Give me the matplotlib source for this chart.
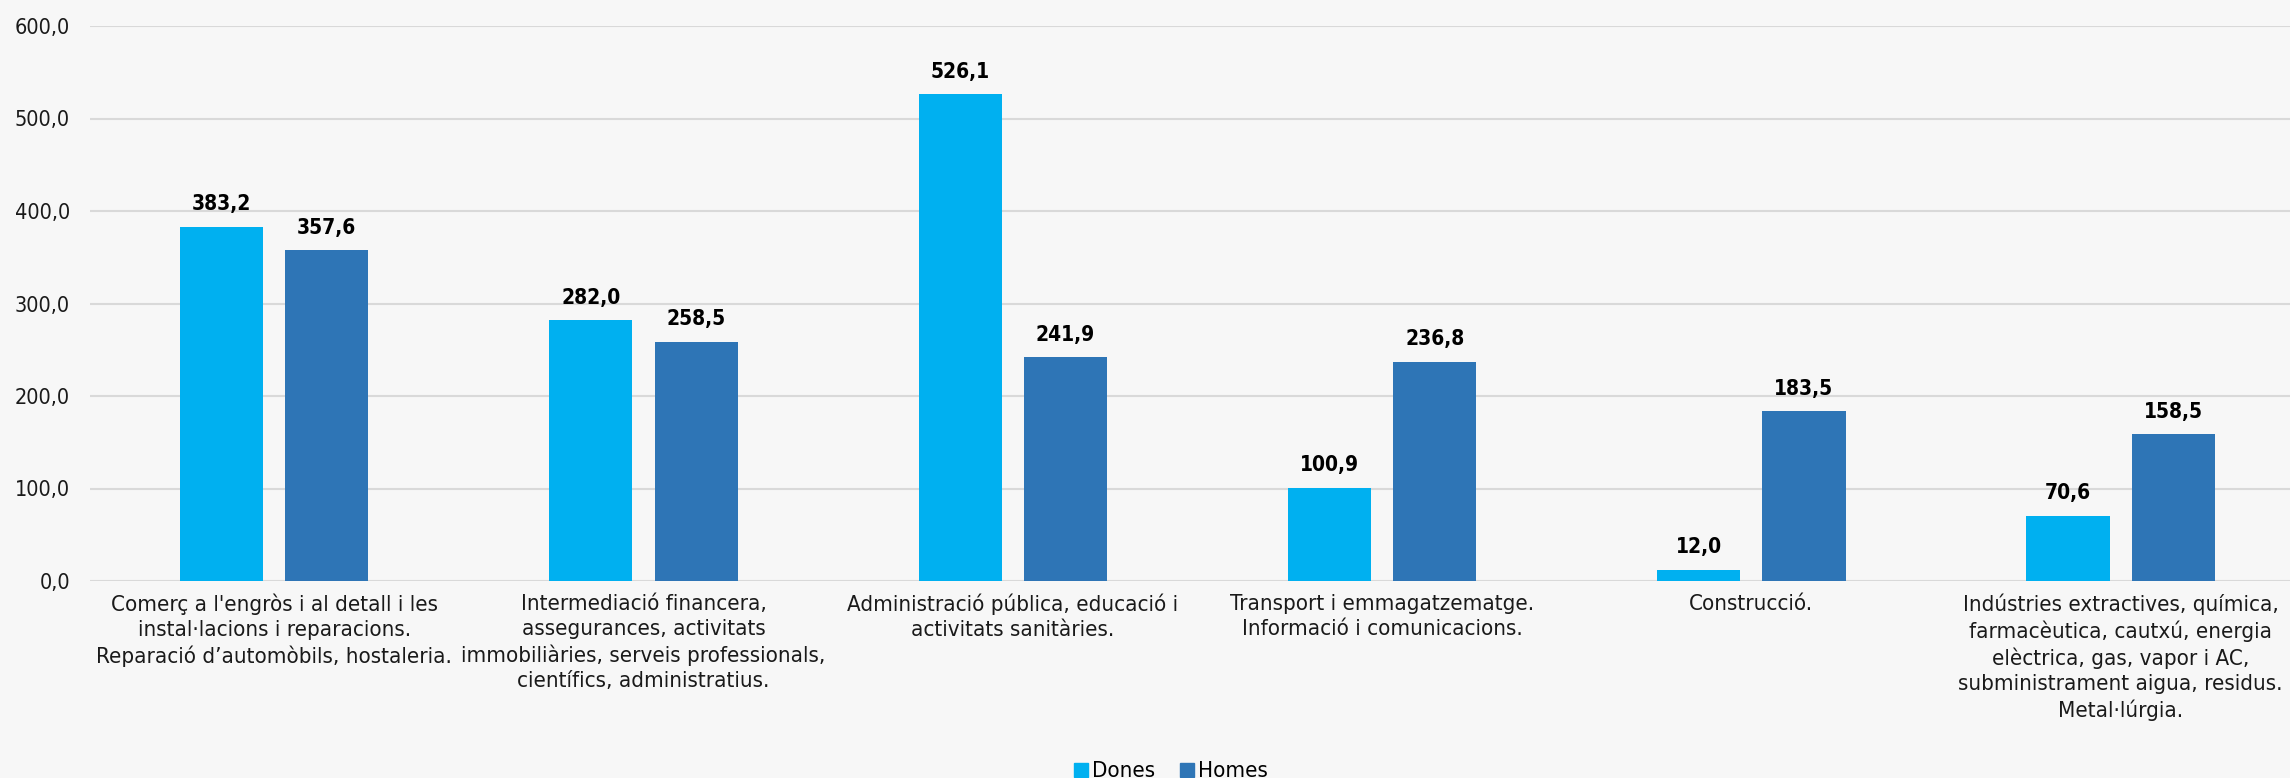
import matplotlib.pyplot as plt
import numpy as np
from matplotlib.lines import Line2D

categories = [
    "Comerç a l'engròs i al detall i les\ninstal·lacions i reparacions.\nReparació d\u2019automòbils, hostaleria.",
    "Intermediació financera,\nassegurances, activitats\nimmobiliàries, serveis professionals,\ncientífics, administratius.",
    "Administració pública, educació i\nactivitats sanitàries.",
    "Transport i emmagatzematge.\nInformació i comunicacions.",
    "Construcció.",
    "Indústries extractives, química,\nfarmacèutica, cautxú, energia\nelèctrica, gas, vapor i AC,\nsubministrament aigua, residus.\nMetal·lúrgia.",
]
dones = [383.2, 282.0, 526.1, 100.9, 12.0, 70.6]
homes = [357.6, 258.5, 241.9, 236.8, 183.5, 158.5]
series_names = ["Dones", "Homes"]
yticks = [0, 100, 200, 300, 400, 500, 600]

c_dones = "#00B0F0"
c_homes = "#2E75B6"
bg = "#F7F7F7"

plt.rcParams["font.family"] = ["DejaVu Sans"]
plt.rcParams["font.stretch"] = "condensed"

W, H = 2290, 778
fig = plt.figure(figsize=(W / 100, H / 100), dpi=100, facecolor=bg)
left = 89.5 / W
bottom = 1 - 581 / H
top = 1 - 26 / H
ax = fig.add_axes([left, bottom, 1 - left, top - bottom], facecolor=bg)

x = np.arange(len(categories))
off = 0.1425
bw = 0.225
b1 = ax.bar(x - off, dones, bw, color=c_dones, zorder=3)
b2 = ax.bar(x + off, homes, bw, color=c_homes, zorder=3)

fmt = lambda v: f"{v:.1f}".replace(".", ",")
for bars, vals in ((b1, dones), (b2, homes)):
    for r, v in zip(bars, vals):
        ax.annotate(fmt(v), (r.get_x() + r.get_width() / 2, v), xytext=(0, 9),
                    textcoords="offset points", ha="center", va="bottom",
                    fontsize=15, fontweight="bold", color="#000000")

ax.set_ylim(0, 600)
ax.set_xlim(-0.5, -0.5 + (W - 89.5) / 369.3)
ax.set_yticks(yticks)
ax.set_yticklabels([fmt(t) for t in yticks], fontsize=15.5, color="#1a1a1a")
ax.set_xticks(x)
ax.set_xticklabels(categories, fontsize=16, color="#1a1a1a", linespacing=1.32, va="top")
ax.tick_params(axis="both", length=0)
ax.tick_params(axis="y", pad=14)
ax.tick_params(axis="x", pad=9)
ax.grid(axis="y", color="#D9D9D9", linewidth=1.5, zorder=0)
for s in ax.spines.values():
    s.set_visible(False)

handles = [Line2D([], [], marker="s", linestyle="none", markersize=10, color=c)
           for c in (c_dones, c_homes)]
fig.legend(handles, series_names, loc="lower center", bbox_to_anchor=(1170 / W, -0.03),
           ncol=2, frameon=False, fontsize=16, handletextpad=0.1, columnspacing=1.0,
           handlelength=0.8)

fig.savefig("out.png", dpi=100, facecolor=bg)
